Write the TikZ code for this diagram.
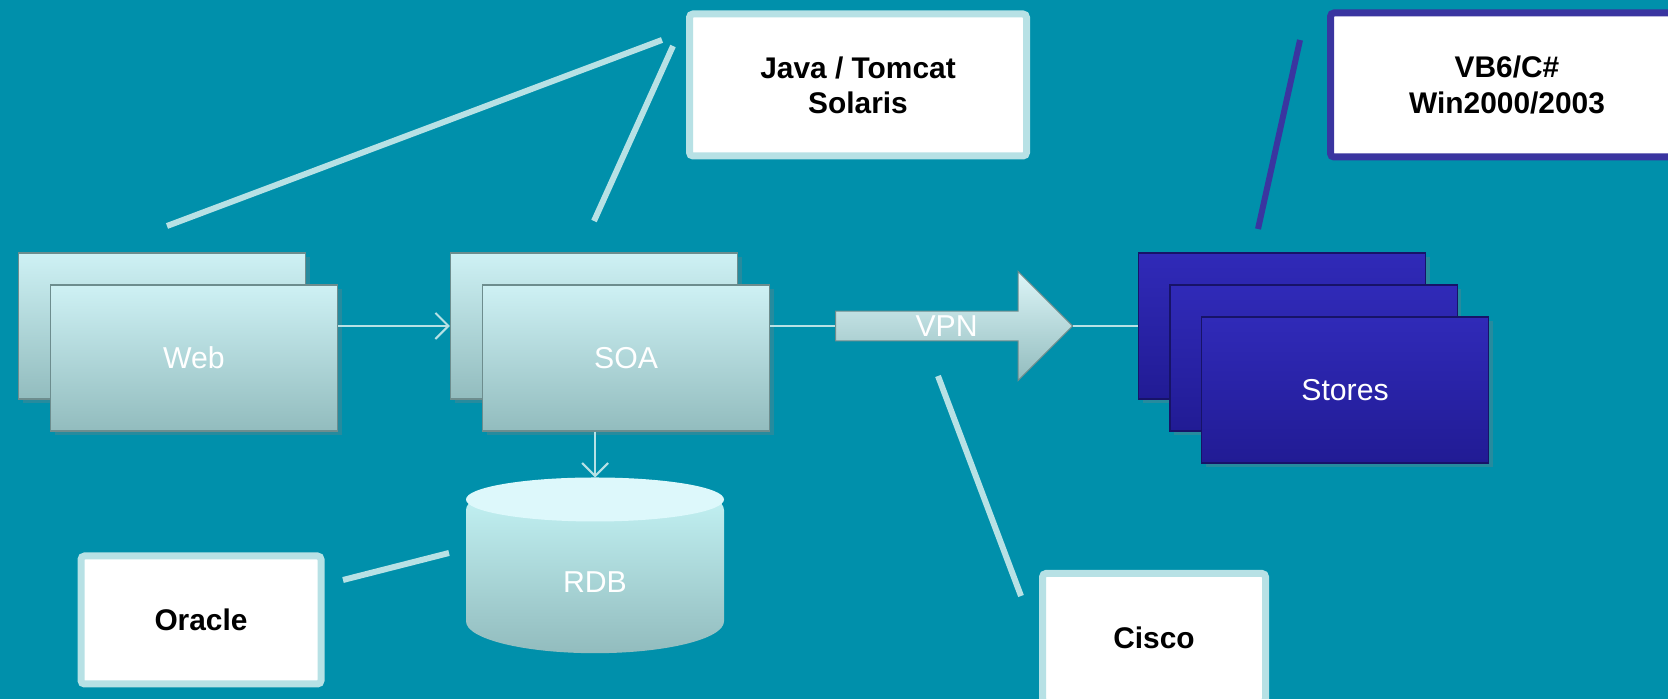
\documentclass[tikz,border=0pt]{standalone}
\usepackage{fontspec}
\setmainfont{Liberation Sans}
\usetikzlibrary{shapes.geometric, shapes.arrows, arrows.meta, shadows}
\definecolor{seabg}{RGB}{0,144,171}
\definecolor{paleline}{RGB}{183,225,229}
\definecolor{panetop}{RGB}{206,241,244}
\definecolor{panebot}{RGB}{146,188,190}
\definecolor{storetop}{RGB}{48,42,184}
\definecolor{storebot}{RGB}{33,27,148}
\definecolor{inkblue}{RGB}{58,53,160}
\definecolor{dbtop}{RGB}{221,248,251}
\tikzstyle{panel} = [rectangle, minimum width=28.7mm, minimum height=14.6mm, inner sep=0pt, text centered, draw=panebot!75!black, line width=0.3pt, top color=panetop, bottom color=panebot, text=white, font=\fontsize{8.6}{10}\selectfont, drop shadow={shadow xshift=0.4mm, shadow yshift=-0.4mm, opacity=0.3}]
\tikzstyle{store} = [panel, draw=storebot!70!black, top color=storetop, bottom color=storebot]
\tikzstyle{note} = [rectangle, rounded corners=1pt, fill=white, draw=paleline, line width=0.7mm, align=center, text=black, font=\fontsize{8.5}{10}\selectfont\bfseries]
\tikzstyle{darknote} = [note, draw=inkblue]
\tikzstyle{pipe} = [single arrow, single arrow head extend=2.9mm, minimum height=23.7mm, minimum width=10.9mm, inner sep=0pt, top color=panetop!70!white, bottom color=panebot, draw=panebot!75!black, line width=0.3pt, text=white, font=\fontsize{8.6}{10}\selectfont]
\tikzstyle{database} = [cylinder, shape border rotate=90, aspect=1, minimum width=25.8mm, minimum height=17.5mm, inner sep=0pt, top color=panetop!85!cyan!70!white, bottom color=panebot, text=white, font=\fontsize{8.6}{10}\selectfont]
\tikzstyle{arrow} = [draw=paleline, line width=0.6pt, ->, >={Straight Barb[length=1.3mm, width=2.6mm]}]
\tikzstyle{link} = [draw=paleline, line width=0.6pt]
\tikzstyle{callout} = [draw=paleline, line width=1.7pt]
\begin{document}
\begin{tikzpicture}[x=0.1mm, y=-0.1mm]
\useasboundingbox (0,0) rectangle (1668,699);
\clip (0,0) rectangle (1668,699);
\fill [seabg] (0,0) rectangle (1668,699);
\node (webback) [panel] at (162,326) {};
\node (webfront) [panel] at ([xshift=3.2mm, yshift=-3.2mm]webback.center) {Web};
\node (soaback) [panel] at (594,326) {};
\node (soafront) [panel] at ([xshift=3.2mm, yshift=-3.2mm]soaback.center) {SOA};
\node (storeback) [store] at (1282,326) {};
\node (storemid) [store] at ([xshift=3.15mm, yshift=-3.2mm]storeback.center) {};
\node (storefront) [store] at ([xshift=3.15mm, yshift=-3.2mm]storemid.center) {Stores};
\node (vpn) [pipe, anchor=tail] at (835,326) {VPN};
\node (rdb) [database] at (595,582) {RDB};
\fill [dbtop] ([yshift=-2.2mm]rdb.north) ellipse [x radius=12.9mm, y radius=2.2mm];
\node (java) [note, minimum width=33.7mm, minimum height=14.2mm] at (858,85) {Java / Tomcat\\Solaris};
\node (vb) [darknote, minimum width=35.3mm, minimum height=14.4mm] at (1507,85) {VB6/C\#\\Win2000/2003};
\node (oracle) [note, minimum width=24mm, minimum height=12.8mm] at (201,620) {Oracle};
\node (cisco) [note, minimum width=22.3mm, minimum height=12.9mm] at (1154,638) {Cisco};
% free ends of the call-out lines
\coordinate (javaend1) at (662,40);
\coordinate (webend) at (167,226);
\coordinate (javaend2) at (673,46);
\coordinate (soaend) at (594,221);
\coordinate (vbend) at (1300,40);
\coordinate (storeend) at (1258,229);
\coordinate (oracleend) at (343,580);
\coordinate (rdbend) at (449,553);
\coordinate (vpnend) at (938,376);
\coordinate (ciscoend) at (1021,596);
\draw [arrow] (webback.center -| webfront.east) -- (soaback.west);
\draw [link] (soaback.center -| soafront.east) -- (vpn.tail);
\draw [link] (vpn.tip) -- (storeback.west);
\draw [arrow] (soafront.south -| rdb.north) -- (rdb.north);
\draw [callout] (javaend1) -- (webend);
\draw [callout] (javaend2) -- (soaend);
\draw [callout, draw=inkblue] (vbend) -- (storeend);
\draw [callout] (oracleend) -- (rdbend);
\draw [callout] (vpnend) -- (ciscoend);
\end{tikzpicture}
\end{document}
